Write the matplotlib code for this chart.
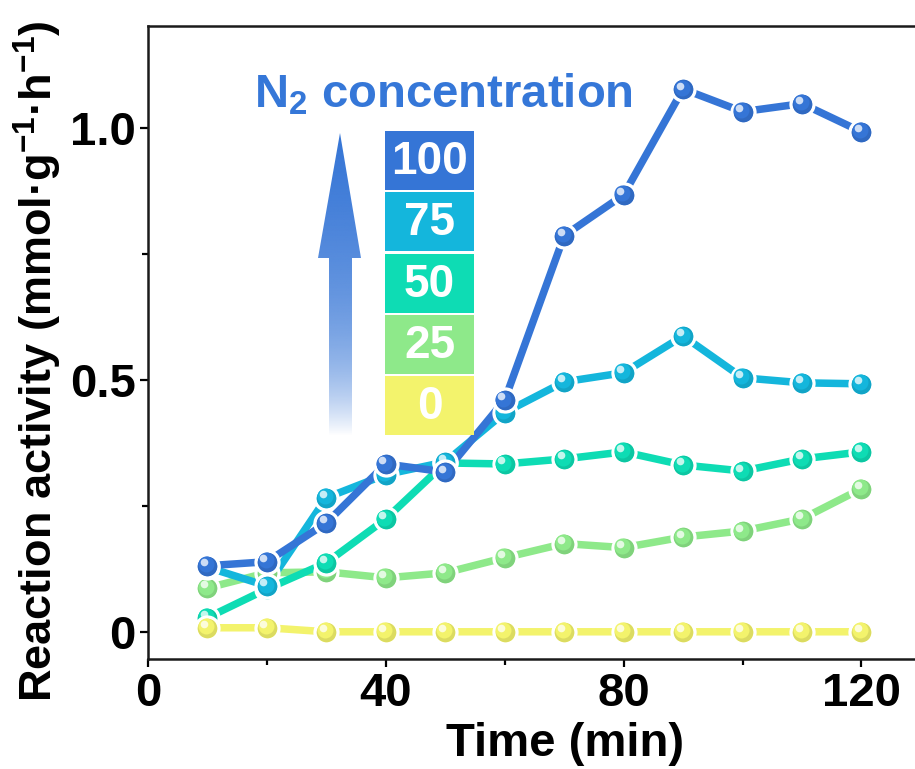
import numpy as np
import matplotlib
matplotlib.use("Agg")
import matplotlib.pyplot as plt
from matplotlib.patches import Polygon, Rectangle
from matplotlib.transforms import offset_copy
from matplotlib.colors import to_rgb

plt.rcParams['font.family'] = ['Liberation Sans', 'DejaVu Sans']
plt.rcParams['font.weight'] = 'bold'
plt.rcParams['mathtext.fontset'] = 'custom'
plt.rcParams['mathtext.rm'] = 'Liberation Sans:bold'
plt.rcParams['mathtext.it'] = 'Liberation Sans:bold'
plt.rcParams['mathtext.bf'] = 'Liberation Sans:bold'

# N2 concentration series (%), sampled every 10 min
time_min = [10, 20, 30, 40, 50, 60, 70, 80, 90, 100, 110, 120]
conc_labels = ['100', '75', '50', '25', '0']
conc_colors = ['#3575d6', '#14b6dc', '#0edcb4', '#8ee98a', '#f3f36c']

act_100 = [0.131, 0.139, 0.216, 0.333, 0.317, 0.460, 0.786, 0.867, 1.077, 1.032, 1.048, 0.992]
act_75 = [0.128, 0.091, 0.266, 0.312, 0.337, 0.435, 0.496, 0.514, 0.587, 0.504, 0.494, 0.492]
act_50 = [0.028, 0.085, 0.137, 0.224, 0.335, 0.333, 0.343, 0.357, 0.331, 0.319, 0.343, 0.357]
act_25 = [0.087, 0.117, 0.119, 0.107, 0.117, 0.147, 0.175, 0.167, 0.188, 0.200, 0.224, 0.284]
act_0 = [0.008, 0.008, 0.0, 0.0, 0.0, 0.0, 0.0, 0.0, 0.0, 0.0, 0.0, 0.0]

series = {'100': act_100, '75': act_75, '50': act_50, '25': act_25, '0': act_0}
draw_order = ['25', '50', '75', '100', '0']

W, H = 915, 769
fig = plt.figure(figsize=(W / 100, H / 100), dpi=100)
ax = fig.add_axes([148 / W, 1 - 659 / H, 1 - 148 / W, (659 - 26) / H])

for key in draw_order:
    col = conc_colors[conc_labels.index(key)]
    y = series[key]
    ax.plot(time_min, y, '-', color=col, lw=5.4, solid_capstyle='round', zorder=2)
    ax.plot(time_min, y, 'o', ms=16.5, mfc=col, mec='white', mew=2.4, zorder=3)
    # darker rim + highlight for a glossy ball look
    rgb = np.array(to_rgb(col))
    ax.plot(time_min, y, 'o', ms=14, mfc=tuple(rgb * 0.9), mec='none', zorder=3)
    ax.plot(time_min, y, 'o', ms=11.5, mfc=col, mec='none', zorder=3,
            transform=offset_copy(ax.transData, fig, x=-1, y=1, units='points'))
    hl = tuple(rgb + (1 - rgb) * 0.75)
    ax.plot(time_min, y, 'o', ms=5.5, mfc=hl, mec='none', zorder=3,
            transform=offset_copy(ax.transData, fig, x=-2.5, y=2.5, units='points'))

ax.set_xlim(0, 129)
ax.set_ylim(-0.054, 1.202)
ax.set_xticks([0, 40, 80, 120])
ax.set_xticks([20, 60, 100], minor=True)
ax.set_yticks([0, 0.5, 1.0])
ax.set_yticklabels(['0', '0.5', '1.0'])
ax.set_yticks([0.25, 0.75], minor=True)
ax.spines['right'].set_visible(False)
for s in ['left', 'bottom', 'top']:
    ax.spines[s].set_linewidth(1.8)
    ax.spines[s].set_color('#1a1a1a')
ax.tick_params(which='major', direction='out', length=6, width=1.6, pad=3)
ax.tick_params(which='minor', direction='out', length=4, width=1.6)
for lab in ax.get_xticklabels() + ax.get_yticklabels():
    lab.set_fontsize(34)
    lab.set_fontweight('bold')

ax.set_xlabel('Time (min)', fontsize=34, fontweight='bold')
ax.xaxis.set_label_coords(0.544, -0.1)
ax.set_ylabel('Reaction activity (mmol·g$^{-1}$·h$^{-1}$)', fontsize=32.5,
              fontweight='bold')
ax.yaxis.set_label_coords(-0.11, 0.47)

# overlay in pixel coordinates for the concentration key
ov = fig.add_axes([0, 0, 1, 1], zorder=5)
ov.set_xlim(0, W)
ov.set_ylim(H, 0)
ov.axis('off')
ov.patch.set_alpha(0)

ov.text(443, 95, 'N$_2$ concentration', color='#3577d8', fontsize=34,
        fontweight='bold', ha='center', va='center')

box_top = [131, 192, 254, 315, 376]
for lab, col, top in zip(conc_labels, conc_colors, box_top):
    ov.add_patch(Rectangle((385, top), 89, 59, facecolor=col, edgecolor='none'))
    ov.text(429.5, top + 31, lab, color='white', fontsize=33, fontweight='bold',
            ha='center', va='center')

# gradient arrow
arrow = Polygon([(340, 133), (361, 258), (352, 258), (352, 436), (329, 436),
                 (329, 258), (318, 258)], closed=True, facecolor='none',
                edgecolor='none')
ov.add_patch(arrow)
yy = np.linspace(0, 1, 300)[:, None]
alpha = np.clip(1.0 - 0.45 * yy ** 1.2 - 0.55 * yy ** 5, 0, 1)
grad = np.zeros((300, 2, 4))
grad[..., :3] = to_rgb('#3575d6')
grad[..., 3] = alpha
im = ov.imshow(grad, extent=[316, 363, 436, 133], aspect='auto',
               interpolation='bilinear')
im.set_clip_path(arrow)

fig.savefig('out.png', dpi=100)
